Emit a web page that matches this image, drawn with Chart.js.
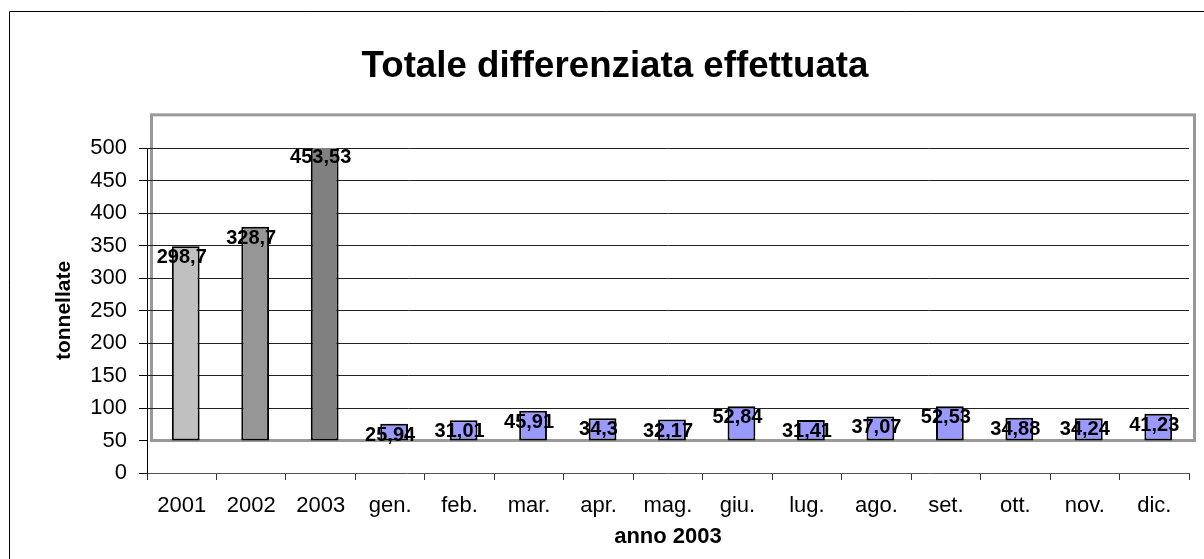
<!DOCTYPE html>
<html>
<head>
<meta charset="utf-8">
<script src="https://cdn.jsdelivr.net/npm/chart.js@4/dist/chart.umd.min.js"></script>
<style>
  html, body { margin: 0; padding: 0; background: #fff; }
  canvas { display: block; }
</style>
</head>
<body>
<canvas id="chart" width="1204" height="559"></canvas>
<script>
// chart data
const categories = ["2001", "2002", "2003", "gen.", "feb.", "mar.", "apr.", "mag.", "giu.", "lug.", "ago.", "set.", "ott.", "nov.", "dic."];
const totals = [298.7, 328.7, 453.53, 25.94, 31.01, 45.91, 34.3, 32.17, 52.84, 31.41, 37.07, 52.53, 34.88, 34.24, 41.23];
const barColors = ["#c0c0c0", "#969696", "#808080", "#9999ff", "#9999ff", "#9999ff", "#9999ff", "#9999ff", "#9999ff", "#9999ff", "#9999ff", "#9999ff", "#9999ff", "#9999ff", "#9999ff"];
const floorValue = 50;      // bars stand on the wall floor at 50
const yMax = 500;
const yStep = 50;

const chartTitle = "Totale differenziata effettuata";
const xTitle = "anno 2003";
const yTitle = "tonnellate";

const FONT = "'Liberation Sans', Arial, sans-serif";
const DEPTH = 4;  // small 3D offset of the back wall / bars

// bars run from the floor up to floor + value
const barData = totals.map(v => [floorValue, floorValue + v]);

function fmt(v) {
    return String(v).replace(".", ",");
}

const frame = {
    id: "frame",
    beforeDraw(chart) {
        const ctx = chart.ctx;
        const x = chart.scales.x, y = chart.scales.y;
        ctx.save();
        // outer border
        ctx.strokeStyle = "#000";
        ctx.lineWidth = 1;
        ctx.beginPath();
        ctx.moveTo(9.5, 559);
        ctx.lineTo(9.5, 11.5);
        ctx.lineTo(1204, 11.5);
        ctx.stroke();
        // back wall
        const top = y.getPixelForValue(551);
        const bottom = y.getPixelForValue(floorValue);
        ctx.strokeStyle = "#999";
        ctx.lineWidth = 3;
        ctx.strokeRect(x.left + DEPTH + 0.5, top, x.right - x.left + 1, bottom - top);
        ctx.restore();
    },
    beforeDatasetsDraw(chart) {
        chart.ctx.save();
        chart.ctx.translate(DEPTH, 0);
    },
    afterDatasetsDraw(chart) {
        const ctx = chart.ctx;
        ctx.restore();
        const x = chart.scales.x;
        const meta = chart.getDatasetMeta(0);
        ctx.save();
        ctx.fillStyle = "#000";
        ctx.font = "bold 20px " + FONT;
        ctx.textAlign = "center";
        ctx.textBaseline = "alphabetic";
        meta.data.forEach((bar, i) => {
            ctx.fillText(fmt(totals[i]), x.getPixelForValue(i), bar.y + 17);
        });
        // chart title
        ctx.font = "bold 36.7px " + FONT;
        ctx.fillText(chartTitle, 615, 77);
        ctx.restore();
    }
};

new Chart(document.getElementById("chart"), {
    type: "bar",
    data: {
        labels: categories,
        datasets: [{
            data: barData,
            backgroundColor: barColors,
            borderColor: "#000",
            borderWidth: 2,
            borderSkipped: false,
            barPercentage: 0.4,
            categoryPercentage: 1
        }]
    },
    plugins: [frame],
    options: {
        responsive: false,
        animation: false,
        events: [],
        layout: { padding: { left: 0, right: 15, top: 148, bottom: 0 } },
        plugins: {
            legend: { display: false },
            tooltip: { enabled: false }
        },
        scales: {
            x: {
                offset: true,
                grid: {
                    offset: true,
                    drawOnChartArea: false,
                    tickLength: 7,
                    tickColor: "#333"
                },
                border: { color: "#555", width: 1 },
                ticks: {
                    color: "#000",
                    font: { family: FONT, size: 22 },
                    padding: 13,
                    maxRotation: 0,
                    autoSkip: false
                },
                title: {
                    display: true,
                    text: xTitle,
                    color: "#000",
                    font: { family: FONT, size: 22, weight: "bold" },
                    padding: { top: 0, bottom: 9 }
                },
                afterFit(s) { s.height = 86; }
            },
            y: {
                min: 0,
                max: yMax,
                grid: {
                    color: ctx => (ctx.tick && (ctx.tick.value === 0 || ctx.tick.value === floorValue)) ? "rgba(0,0,0,0)" : "#222",
                    tickColor: "#000",
                    tickLength: 8
                },
                border: { color: "#000", width: 1 },
                ticks: {
                    stepSize: yStep,
                    color: "#000",
                    font: { family: FONT, size: 22 },
                    padding: 12
                },
                title: {
                    display: true,
                    text: yTitle,
                    color: "#000",
                    font: { family: FONT, size: 21, weight: "bold" },
                    padding: { top: 52, bottom: 0 }
                },
                afterFit(s) { s.width = 147; }
            }
        }
    }
});
</script>
</body>
</html>
